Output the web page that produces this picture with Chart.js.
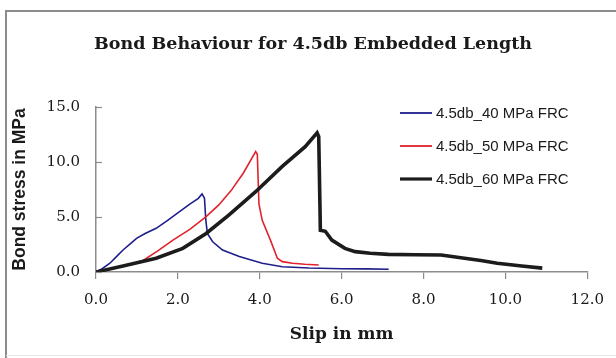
<!DOCTYPE html>
<html>
<head>
<meta charset="utf-8">
<script src="https://cdn.jsdelivr.net/npm/chart.js@4.4.0/dist/chart.umd.min.js"></script>
<style>
html,body{margin:0;padding:0;background:#fff;}
#wrap{width:616px;height:358px;position:relative;}
</style>
</head>
<body>
<div id="wrap"><canvas id="c" width="616" height="358"></canvas></div>
<script>
// ---- data ----
const titleText = "Bond Behaviour for 4.5db Embedded Length";
const xTitle = "Slip in mm";
const yTitle = "Bond stress in MPa";
const seriesNames = ["4.5db_40 MPa FRC", "4.5db_50 MPa FRC", "4.5db_60 MPa FRC"];

const slip40   = [0, 0.15, 0.34, 0.5, 0.66, 0.85, 0.99, 1.2, 1.47, 1.75, 2.04, 2.3, 2.5, 2.59, 2.65, 2.68, 2.72, 2.85, 3.09, 3.5, 4.06, 4.55, 5.2, 6.0, 6.6, 7.15];
const stress40 = [0, 0.3, 0.8, 1.4, 2.0, 2.6, 3.06, 3.5, 3.97, 4.7, 5.48, 6.2, 6.7, 7.1, 6.7, 4.8, 3.5, 2.75, 2.0, 1.4, 0.8, 0.48, 0.36, 0.3, 0.28, 0.25];

const slip50   = [0, 0.66, 1.15, 1.5, 1.88, 2.3, 2.69, 3.0, 3.3, 3.6, 3.9, 3.94, 3.98, 4.06, 4.26, 4.43, 4.55, 4.8, 5.1, 5.44];
const stress50 = [0, 0.5, 1.05, 1.9, 2.9, 3.9, 5.03, 6.1, 7.4, 9.0, 10.94, 10.7, 6.2, 4.7, 2.9, 1.25, 0.94, 0.8, 0.7, 0.64];

const slip60   = [0, 0.66, 1.47, 2.12, 2.69, 3.25, 3.9, 4.55, 5.11, 5.4, 5.44, 5.47, 5.48, 5.6, 5.76, 6.08, 6.33, 6.7, 7.14, 7.8, 8.43, 9.0, 9.4, 9.8, 10.4, 10.9];
const stress60 = [0, 0.55, 1.25, 2.15, 3.5, 5.2, 7.3, 9.6, 11.4, 12.65, 12.3, 6.0, 3.8, 3.7, 2.9, 2.15, 1.85, 1.7, 1.6, 1.57, 1.55, 1.25, 1.05, 0.8, 0.55, 0.35];

const xTicks = [0, 2, 4, 6, 8, 10, 12];
const yTicks = [0, 5, 10, 15];

const colors = ["#1f1f8c", "#e1222c", "#1c1c1c"];
const widths = [1.6, 1.6, 3.6];

function pts(xs, ys){ return xs.map((x,i)=>({x:x, y:ys[i]})); }
const seriesData = [pts(slip40, stress40), pts(slip50, stress50), pts(slip60, stress60)];

// ---- plugins ----
const framePlugin = {
  id: 'frame',
  beforeDraw(chart){
    const ctx = chart.ctx;
    ctx.save();
    ctx.fillStyle = '#fff';
    ctx.fillRect(0,0,chart.width,chart.height);
    ctx.strokeStyle = '#8c8c8c';
    ctx.lineWidth = 2;
    ctx.beginPath();
    ctx.moveTo(6, 358);
    ctx.lineTo(6, 11);
    ctx.lineTo(616, 11);
    ctx.stroke();
    ctx.strokeStyle = '#e6e6e6';
    ctx.lineWidth = 1;
    ctx.beginPath();
    ctx.moveTo(6, 355.5);
    ctx.lineTo(616, 355.5);
    ctx.stroke();
    ctx.restore();
  }
};

const innerTicks = {
  id: 'innerTicks',
  afterDatasetsDraw(chart){
    const ys = chart.scales.y;
    const ctx = chart.ctx;
    ctx.save();
    ctx.strokeStyle = '#8c8c8c';
    ctx.lineWidth = 1.2;
    ys.ticks.forEach(t=>{
      const py = Math.round(ys.getPixelForValue(t.value)) + 0.5;
      ctx.beginPath();
      ctx.moveTo(chart.chartArea.left, py);
      ctx.lineTo(chart.chartArea.left + 6, py);
      ctx.stroke();
    });
    ctx.restore();
  }
};

const legendPlugin = {
  id: 'customLegend',
  afterDraw(chart){
    const ctx = chart.ctx;
    ctx.save();
    const x0 = 400, x1 = 432, tx = 436;
    const rows = [113, 146, 179];
    chart.data.datasets.forEach((ds, i)=>{
      const yy = rows[i];
      ctx.strokeStyle = ds.borderColor;
      ctx.lineWidth = i === 2 ? 3.2 : 1.8;
      ctx.beginPath();
      ctx.moveTo(x0, yy);
      ctx.lineTo(x1, yy);
      ctx.stroke();
      ctx.fillStyle = '#1a1a1a';
      ctx.font = '15px "Liberation Sans", Arial, sans-serif';
      ctx.textBaseline = 'middle';
      ctx.textAlign = 'left';
      ctx.fillText(ds.label, tx, yy + 1);
    });
    ctx.restore();
  }
};

const datasets = seriesNames.map((name, i)=>({
  label: name,
  data: seriesData[i],
  borderColor: colors[i],
  backgroundColor: colors[i],
  borderWidth: widths[i],
  pointRadius: 0,
  showLine: true,
  tension: 0,
  fill: false,
  order: 2 - i
}));

new Chart(document.getElementById('c'), {
  type: 'scatter',
  data: { datasets },
  options: {
    responsive: false,
    animation: false,
    devicePixelRatio: 1,
    layout: { padding: { left: 38, right: 28, top: 0, bottom: 0 } },
    plugins: {
      legend: { display: false },
      tooltip: { enabled: false },
      title: {
        display: true,
        text: titleText,
        color: '#1a1a1a',
        font: { family: '"DejaVu Serif", serif', size: 17.5, weight: 'bold' },
        padding: { top: 33.5, bottom: 52.5 }
      }
    },
    scales: {
      x: {
        type: 'linear',
        min: 0, max: 12,
        afterBuildTicks(scale){ scale.ticks = xTicks.map(v=>({value:v})); },
        afterFit(scale){ scale.height = 86; },
        grid: { drawOnChartArea: false, drawTicks: true, tickLength: 7, color: '#8c8c8c', lineWidth: 1.2 },
        border: { display: true, color: '#8c8c8c', width: 1.5 },
        ticks: {
          padding: 12,
          color: '#1a1a1a',
          font: { family: '"DejaVu Serif", serif', size: 15 },
          callback: v => Number(v).toFixed(1),
          maxRotation: 0
        },
        title: {
          display: true, text: xTitle, color: '#1a1a1a',
          font: { family: '"DejaVu Serif", serif', size: 17, weight: 'bold' },
          padding: { top: 0, bottom: 13 }
        }
      },
      y: {
        type: 'linear',
        min: 0, max: 15,
        afterBuildTicks(scale){ scale.ticks = yTicks.map(v=>({value:v})); },
        afterFit(scale){ scale.width = 58; },
        grid: { drawOnChartArea: false, drawTicks: false },
        border: { display: true, color: '#8c8c8c', width: 1.5 },
        ticks: {
          padding: 16,
          color: '#1a1a1a',
          font: { family: '"DejaVu Serif", serif', size: 15 },
          callback: v => Number(v).toFixed(1)
        },
        title: {
          display: true, text: yTitle, color: '#1a1a1a',
          font: { family: '"Liberation Sans", Arial, sans-serif', size: 17.5, weight: 'bold' },
          padding: { top: -28.5, bottom: 0 }
        }
      }
    }
  },
  plugins: [framePlugin, innerTicks, legendPlugin]
});
</script>
</body>
</html>
